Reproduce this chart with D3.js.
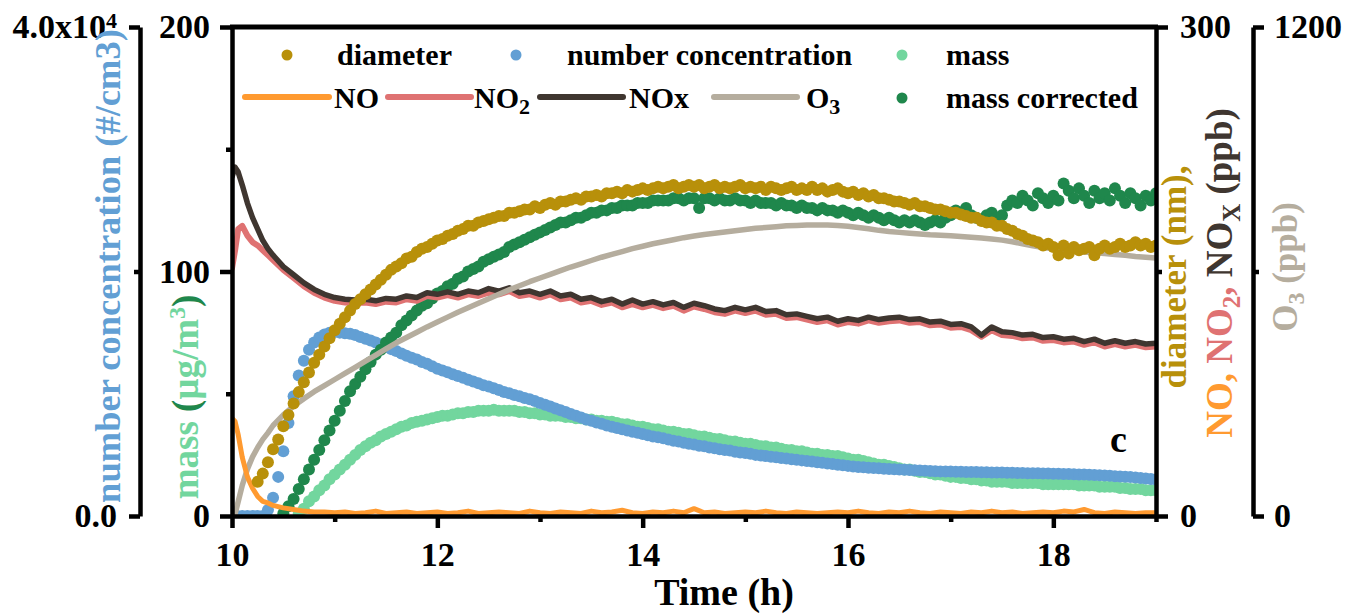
<!DOCTYPE html>
<html><head><meta charset="utf-8">
<script src="https://cdn.jsdelivr.net/npm/d3@7/dist/d3.min.js"></script>
<style>
body{margin:0;background:#fff;}
svg{display:block;}
svg text{font-family:"Liberation Serif","Tinos","Times New Roman","DejaVu Serif",serif !important;font-weight:bold;}
</style></head><body>
<svg id="chart" width="1346" height="615"></svg>
<script>
// ---------- DATA ----------
// dot series sampled every 0.05 h from 10.00 to 19.00 (20 values per hour + 19.00)
const dotTime = d3.range(181).map(i => +(10 + i * 0.05).toFixed(2));

const diameter = [ // nm
  null,null,null,null,null,21,26,33,41,47,55,62,69,76,82,88,94,99,104,109,
  114,118,122,126,130,133,136,139,142,145,148,151,153,155,158,159,162,164,165,167,
  169,170,172,173,175,176,178,178,180,181,182,183,184,184,186,186,187,188,188,190,
  189,191,192,191,193,193,194,195,194,196,196,197,196,198,198,199,198,200,199,200,
  201,200,201,202,201,202,203,201,202,203,202,203,201,202,203,201,202,201,202,203,
  201,202,201,202,200,202,201,200,201,202,200,201,200,202,200,201,199,200,201,199,
  198,199,197,198,196,197,195,195,194,193,193,192,191,192,190,190,189,188,188,187,
  186,186,185,184,183,183,181,180,180,178,178,176,175,173,172,170,169,168,166,167,
  165,160,166,161,165,163,164,165,160,164,166,164,165,167,165,166,168,166,167,165,
  166];

const numberConc = [ // #/cm3
  0,0,0,0,0,0,0,500,1500,3200,5300,7600,9800,11500,12700,13600,14200,14600,14850,15000,
  15050,15000,14950,14900,14800,14650,14500,14350,14200,14000,13850,13650,13500,13300,13100,12950,12800,12600,12450,12250,
  12050,11900,11750,11600,11450,11300,11150,11000,10850,10700,10600,10450,10300,10150,10050,9900,9800,9650,9550,9400,
  9250,9100,8950,8800,8650,8500,8350,8200,8050,7900,7800,7650,7550,7400,7300,7200,7100,7000,6900,6800,
  6700,6600,6500,6450,6350,6250,6150,6100,6000,5900,5850,5750,5700,5600,5550,5450,5400,5350,5250,5200,
  5150,5100,5000,4950,4900,4850,4800,4750,4700,4650,4600,4550,4500,4450,4400,4350,4300,4250,4200,4150,
  4100,4050,4000,3980,3950,3920,3900,3870,3850,3820,3800,3780,3760,3740,3720,3700,3680,3660,3650,3640,
  3630,3620,3610,3600,3600,3590,3580,3570,3560,3550,3550,3540,3530,3520,3510,3500,3500,3490,3480,3470,
  3460,3450,3440,3430,3420,3400,3390,3370,3350,3330,3310,3290,3260,3240,3210,3180,3150,3110,3070,3030,
  2980];

const mass = [ // ug/m3
  null,null,null,null,null,null,null,null,null,null,null,null,null,1,3,6,8,10.5,12.5,15,
  17,19,21,23,25,27,28.5,30,31,32.5,33.5,34.5,35.5,36.5,37,38,38.5,39,39.5,40,
  40.5,41,41,41.5,42,42,42.5,42.5,43,43,43,43.5,43,43,43,43,42.5,42.5,42,42,
  41.5,41.5,41,41,41,40.5,40.5,40,40,39.5,39.5,39,39,38.5,38.5,38,37.5,37.5,37,36.5,
  36.5,36,35.5,35.5,35,34.5,34.5,34,33.5,33.5,33,32.5,32.5,32,31.5,31.5,31,30.5,30.5,30,
  29.5,29.5,29,28.5,28.5,28,28,27.5,27,27,26.5,26.5,26,25.5,25.5,25,25,24.5,24.5,24,
  23.5,23,23,22.5,22,21.5,21,21,20.5,20,19.5,19,19,18.5,18,18,17.5,17,17,16.5,
  16,16,15.5,15.5,15,15,14.5,14.5,14,14,14,14,13.5,13.5,13.5,13.5,13.5,13.5,13,13,
  13,13,13,13,13,12.5,12.5,12.5,12.5,12,12,12,12,11.5,11.5,11,11,11,10.5,10.5,
  10.5];

const massCorrected = [ // ug/m3
  null,null,null,null,null,null,null,null,null,null,1,4,7,11,15,19,23,27,31,35,
  39,43,47,51,54,57,60,63,66,68,71,73,75,78,80,82,84,86,87,89,
  91,92,94,95,97,98,100,101,102,104,105,106,107,108,110,111,112,113,114,115,
  116,117,118,119,120,120,121,122,122,123,124,124,125,125,126,126,127,127,127,128,
  128,128,129,129,129,129,130,130,129,130,130,126,130,130,129,130,129,129,130,129,
  129,128,129,128,128,128,127,128,127,127,126,127,126,126,125,126,125,125,124,125,
  124,123,124,123,122,123,122,121,122,121,120,121,120,121,120,119,120,121,120,122,
  123,125,124,126,123,122,121,123,124,122,123,127,129,128,131,129,127,132,130,128,
  131,129,136,133,130,134,131,128,133,130,132,129,134,131,128,132,130,127,131,129,
  132];

// gas series: finer steps at the start, then every 0.1 h
const lineTime = [10.00,10.03,10.06,10.10,10.15,10.20,10.25,10.30,10.35]
  .concat(d3.range(87).map(i => +(10.4 + i * 0.1).toFixed(1)));

const NOx = [ // ppb
  208,214,211,203,192,183,176,169,164,
  160,153,148,143,139,136,
  134,133,132.5,133,132,133.5,133,135,134,137,
  136,137.5,136,138,137,139.5,138,140,137,138,
  136,138,135,136,133,134,131.5,133,130,132.5,
  130,131.5,129.5,131,128,130.5,129,127,126,128,
  126.5,128,125.5,126,123.5,124,122.5,121,122,119.5,
  121,120,122,120.5,121.5,122,120.5,121,119,119.5,
  117.5,118,116,111,116,113,112.5,111,111.5,109.5,
  110,108.5,109,107,108.5,106,107.5,106,107,105.5,
  106];

const NO2 = [ // ppb
  152,163,176,178,172,168,166,163,160,
  157,151,146,141,137,134,
  132,131,130.5,131,130,131.5,131,133,132,135,
  134,135.5,134,136,135,137,136,138,135,136,
  134,136,133,134,131,132,129.5,131,128,130,
  128,129.5,127.5,129,126,128.5,127,125,124,126,
  124.5,126,123.5,124,121.5,122,120.5,119,120,117.5,
  119,118,120,118.5,119.5,120,118.5,119,117,117.5,
  115.5,116,114,110,114,111,110.5,109,109.5,107.5,
  108,106.5,107,105,106.5,104,105.5,104,105,103.5,
  104];

const NO = [ // ppb
  60,58,50,36,24,17,12,9,8,
  6.5,5,4,3,2.5,2.5,
  2,2.5,1.5,2,3,1.5,2,2.5,1.5,2,
  2.5,1.5,2,3,1.5,2,2.5,2,1.5,3,
  2,1.5,2.5,2,1.5,3,2,2.5,3.5,2,
  1.5,2.5,2,3,2,4.5,2,2.5,1.5,2,
  2.5,2,3,2,1.5,2.5,2,1.5,2,2.5,
  2,3,2,1.5,2.5,2,3,2,1.5,2.5,
  2,1.5,2.5,2,3,2,2.5,1.5,2,2.5,
  2,3,2.5,4,2,1.5,2.5,2,1.5,2,
  2];

const O3 = [ // ppb
  0,5,35,75,115,145,168,188,204,
  222,248,270,288,305,320,
  335,350,365,380,395,410,425,438,451,464,
  476,488,500,511,522,533,544,555,565,575,
  584,593,602,611,619,627,635,642,649,656,
  662,668,673,678,683,687,691,694,697,700,
  703,706,708,710,712,713,714,714,714,713,
  711,708,705,701,698,696,694,692,690,689,
  688,686,684,682,680,677,673,668,663,659,
  656,653,650,648,646,644,642,640,637,635,
  633];

const xTicksMajor = [10, 12, 14, 16, 18];
const xTicksMinor = [11, 13, 15, 17, 19];
const massTicks = [0, 100, 200];
const numTicks = [0, 40000];
const rightTicks = [0, 300];
const o3Ticks = [0, 1200];

// ---------- STYLE ----------
const FONT = '"Liberation Serif","Tinos","Times New Roman","DejaVu Serif",serif';
const C = {
  diameter: '#b8900a', number: '#629fd4', mass: '#72d69e', massCorr: '#1f874c',
  NO: '#ff9a30', NO2: '#df7272', NOx: '#3f3630', O3: '#b5ad9e'
};

const svg = d3.select('#chart');
svg.append('rect').attr('width', 1346).attr('height', 615).attr('fill', '#fff');

const L = 232, R = 1156, T = 27, B = 516;
const x = d3.scaleLinear([10, 19], [L, R]);
const yMass = d3.scaleLinear([0, 200], [B, T]);
const yNum = d3.scaleLinear([0, 40000], [B, T]);
const yRight = d3.scaleLinear([0, 300], [B, T]);
const yO3 = d3.scaleLinear([0, 1200], [B, T]);

svg.append('clipPath').attr('id', 'clip').append('rect')
  .attr('x', L).attr('y', T).attr('width', R - L).attr('height', B - T + 2);
const plot = svg.append('g').attr('clip-path', 'url(#clip)');

function dots(values, ys, color) {
  plot.append('g').selectAll('circle')
    .data(dotTime.map((t, i) => [t, values[i]]).filter(d => d[1] != null))
    .join('circle')
    .attr('cx', d => x(d[0])).attr('cy', d => ys(d[1])).attr('r', 6)
    .attr('fill', color);
}
function line(values, ys, color, w) {
  plot.append('path')
    .datum(lineTime.map((t, i) => [t, values[i]]))
    .attr('d', d3.line().x(d => x(d[0])).y(d => ys(d[1])))
    .attr('fill', 'none').attr('stroke', color).attr('stroke-width', w)
    .attr('stroke-linejoin', 'round').attr('stroke-linecap', 'round');
}

dots(mass, yMass, C.mass);
dots(numberConc, yNum, C.number);
dots(massCorrected, yMass, C.massCorr);
line(NO2, yRight, C.NO2, 6);
line(NOx, yRight, C.NOx, 5.5);
line(O3, yO3, C.O3, 5.5);
line(NO, yRight, C.NO, 5);
dots(diameter, yRight, C.diameter);

// ---------- AXES ----------
function styleAxis(g, fs) {
  g.attr('font-family', FONT).attr('font-size', fs).attr('font-weight', 'bold');
  g.select('.domain').attr('stroke', '#000').attr('stroke-width', 4.5);
  g.selectAll('.tick line').attr('stroke', '#000').attr('stroke-width', 4.5);
  g.selectAll('.tick text').attr('fill', '#000');
}
function minor(g) { g.select('.domain').remove(); g.selectAll('.tick line').attr('stroke', '#000').attr('stroke-width', 4.5); }

// inner left: mass
let g = svg.append('g').attr('transform', `translate(${L},0)`)
  .call(d3.axisLeft(yMass).tickValues(massTicks).tickSize(12).tickSizeOuter(0).tickPadding(10).tickFormat(d3.format('d')));
styleAxis(g, 34);
svg.append('g').attr('transform', `translate(${L},0)`)
  .call(d3.axisLeft(yMass).tickValues([50, 150]).tickSize(6).tickFormat('')).call(minor);

// outer left: number concentration
g = svg.append('g').attr('transform', 'translate(140,0)')
  .call(d3.axisLeft(yNum).tickValues(numTicks).tickSize(11).tickSizeOuter(0).tickPadding(12).tickFormat(d => d === 0 ? '0.0' : ''));
styleAxis(g, 34);
g.selectAll('.tick text').filter(d => d === 40000).each(function () {
  const t = d3.select(this);
  t.append('tspan').text('4.0x10');
  t.append('tspan').attr('font-size', 22).attr('dy', '-0.45em').text('4');
});
svg.append('g').attr('transform', 'translate(140,0)')
  .call(d3.axisLeft(yNum).tickValues([20000]).tickSize(6).tickFormat('')).call(minor);

// right: diameter / NO
g = svg.append('g').attr('transform', `translate(${R},0)`)
  .call(d3.axisRight(yRight).tickValues(rightTicks).tickSize(12).tickSizeOuter(0).tickPadding(12).tickFormat(d3.format('d')));
styleAxis(g, 34);
svg.append('g').attr('transform', `translate(${R},0)`)
  .call(d3.axisRight(yRight).tickValues([150]).tickSize(6).tickFormat('')).call(minor);

// far right: O3
g = svg.append('g').attr('transform', 'translate(1253,0)')
  .call(d3.axisRight(yO3).tickValues(o3Ticks).tickSize(11).tickSizeOuter(0).tickPadding(10).tickFormat(d3.format('d')));
styleAxis(g, 34);
svg.append('g').attr('transform', 'translate(1253,0)')
  .call(d3.axisRight(yO3).tickValues([600]).tickSize(6).tickFormat('')).call(minor);

// bottom
g = svg.append('g').attr('transform', `translate(0,${B})`)
  .call(d3.axisBottom(x).tickValues(xTicksMajor).tickSize(12).tickSizeOuter(0).tickPadding(14).tickFormat(d3.format('d')));
styleAxis(g, 34);
svg.append('g').attr('transform', `translate(0,${B})`)
  .call(d3.axisBottom(x).tickValues(xTicksMinor).tickSize(6).tickFormat('')).call(minor);

// top frame
svg.append('line').attr('x1', L - 2).attr('x2', R + 2).attr('y1', T).attr('y2', T)
  .attr('stroke', '#000').attr('stroke-width', 5);

// ---------- TITLES ----------
function txt(xp, yp, rot, size, anchor) {
  return svg.append('text').attr('transform', `translate(${xp},${yp})` + (rot ? ` rotate(${rot})` : ''))
    .attr('font-family', FONT).attr('font-weight', 'bold').attr('font-size', size)
    .attr('text-anchor', anchor || 'middle');
}
txt(724, 605, 0, 38).attr('fill', '#000').text('Time (h)');

txt(120, 266, -90, 36.5).attr('fill', C.number).text('number concentration (#/cm3)');

let t = txt(198, 397, -90, 37);
t.append('tspan').attr('fill', C.mass).text('mass ');
t.append('tspan').attr('fill', C.massCorr).text('(');
t.append('tspan').attr('fill', C.mass).text('μg/m');
t.append('tspan').attr('fill', C.mass).attr('font-size', 24).attr('dy', '-0.55em').text('3');
t.append('tspan').attr('fill', C.massCorr).attr('dy', '0.35em').text(')');

txt(1186, 277, -90, 35).attr('fill', C.diameter).text('diameter (nm),');

t = txt(1232, 273, -90, 37);
t.append('tspan').attr('fill', C.NO).text('NO, ');
t.append('tspan').attr('fill', C.NO2).text('NO');
t.append('tspan').attr('fill', C.NO2).attr('font-size', 25).attr('dy', '0.3em').text('2');
t.append('tspan').attr('fill', C.NO2).attr('dy', '-0.2em').text(', ');
t.append('tspan').attr('fill', C.NOx).text('NO');
t.append('tspan').attr('fill', C.NOx).attr('font-size', 25).attr('dy', '0.3em').text('X');
t.append('tspan').attr('fill', C.NOx).attr('dy', '-0.2em').text(' (ppb)');

t = txt(1297, 267, -90, 35);
t.append('tspan').attr('fill', C.O3).text('O');
t.append('tspan').attr('fill', C.O3).attr('font-size', 24).attr('dy', '0.3em').text('3');
t.append('tspan').attr('fill', C.O3).attr('dy', '-0.2em').text(' (ppb)');

txt(1110, 452, 0, 38, 'start').attr('fill', '#000').text('c');

// ---------- LEGEND ----------
const legendNames = ['diameter', 'number concentration', 'mass', 'NO', 'NO2', 'NOx', 'O3', 'mass corrected'];
const legendPos = [
  {type: 'dot', c: C.diameter, mx: 287, my: 55, tx: 337, ty: 65},
  {type: 'dot', c: C.number, mx: 516, my: 55, tx: 567, ty: 65},
  {type: 'dot', c: C.mass, mx: 902, my: 55, tx: 946, ty: 65},
  {type: 'line', c: C.NO, mx: 245, mx2: 329, my: 97, tx: 334, ty: 108},
  {type: 'line', c: C.NO2, mx: 388, mx2: 471, my: 97, tx: 474, ty: 108},
  {type: 'line', c: C.NOx, mx: 540, mx2: 623, my: 97, tx: 629, ty: 108},
  {type: 'line', c: C.O3, mx: 714, mx2: 797, my: 97, tx: 806, ty: 108},
  {type: 'dot', c: C.massCorr, mx: 902, my: 98, tx: 946, ty: 108}
];
const leg = svg.append('g');
legendNames.forEach((name, i) => {
  const p = legendPos[i];
  if (p.type === 'dot') {
    leg.append('circle').attr('cx', p.mx).attr('cy', p.my).attr('r', 5.5).attr('fill', p.c);
  } else {
    leg.append('line').attr('x1', p.mx).attr('x2', p.mx2).attr('y1', p.my).attr('y2', p.my)
      .attr('stroke', p.c).attr('stroke-width', 6).attr('stroke-linecap', 'round');
  }
  const tt = leg.append('text').attr('x', p.tx).attr('y', p.ty).attr('font-family', FONT)
    .attr('font-weight', 'bold').attr('font-size', 30).attr('fill', '#000');
  const m = name.match(/^(NO|O)([23])$/);
  if (m) {
    tt.append('tspan').text(m[1]);
    tt.append('tspan').attr('font-size', 22).attr('dy', '0.28em').text(m[2]);
  } else tt.text(name);
});
</script>
</body></html>
